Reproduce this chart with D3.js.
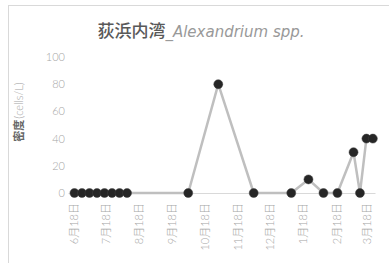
<!DOCTYPE html>
<html>
<head>
<meta charset="utf-8">
<script src="https://cdn.jsdelivr.net/npm/d3@7"></script>
<style>
  body { margin: 0; background: #fff; }
  svg { display: block; }
</style>
</head>
<body>
<div id="chart"></div>
<script>
// sampling dates and cell density
const dates = [
  "2018-06-19", "2018-06-26", "2018-07-03", "2018-07-10", "2018-07-17",
  "2018-07-24", "2018-07-31", "2018-08-07", "2018-10-03", "2018-10-31",
  "2018-12-03", "2019-01-07", "2019-01-23", "2019-02-06", "2019-02-19",
  "2019-03-06", "2019-03-12", "2019-03-18", "2019-03-24"
];
const values = [0, 0, 0, 0, 0, 0, 0, 0, 0, 80, 0, 0, 10, 0, 0, 30, 0, 40, 40];
const tickDates = [
  "2018-06-18", "2018-07-18", "2018-08-18", "2018-09-18", "2018-10-18",
  "2018-11-18", "2018-12-18", "2019-01-18", "2019-02-18", "2019-03-18"
];
const yTicks = [0, 20, 40, 60, 80, 100];

const W = 389, H = 263;
const parse = d3.timeParse("%Y-%m-%d");
const data = dates.map((d, i) => ({ date: parse(d), value: values[i] }));

const svg = d3.select("#chart").append("svg")
  .attr("width", W)
  .attr("height", H);

// outer frame (runs off the right and bottom edge)
svg.append("rect")
  .attr("x", 8.5).attr("y", 5.5)
  .attr("width", 420).attr("height", 300)
  .attr("fill", "none")
  .attr("stroke", "#d9d9d9");

const x = d3.scaleTime()
  .domain([parse("2018-06-13"), parse("2019-03-26")])
  .range([68, 375]);

const y = d3.scaleLinear()
  .domain([0, 100])
  .range([193, 57]);

const font = "Lato, 'Noto Sans CJK JP', sans-serif";
const thin = "'DejaVu Sans', Lato, sans-serif";

// title
const title = svg.append("text")
  .attr("x", 201)
  .attr("y", 37)
  .attr("text-anchor", "middle")
  .style("font-size", "17px");
title.append("tspan")
  .attr("fill", "#595959")
  .style("font-family", "'Noto Sans CJK JP', sans-serif")
  .style("font-weight", "500")
  .text("荻浜内湾");
title.append("tspan")
  .attr("fill", "#999999")
  .style("font-family", thin)
  .style("font-style", "italic")
  .style("font-weight", "200")
  .style("font-size", "15px")
  .text("_Alexandrium spp.");

// y axis label
const yLab = svg.append("text")
  .attr("transform", "translate(23,112) rotate(-90)")
  .attr("text-anchor", "middle")
  .style("font-size", "11px");
yLab.append("tspan")
  .attr("fill", "#666666")
  .style("font-family", "'Noto Sans CJK JP', sans-serif")
  .style("font-weight", "700")
  .text("密度");
yLab.append("tspan")
  .attr("dx", 1)
  .attr("fill", "#a6a6a6")
  .style("font-family", font)
  .style("font-weight", "300")
  .text("(cells/L)");

// y axis: labels only
const yAxis = svg.append("g")
  .attr("transform", "translate(65,0)")
  .call(d3.axisLeft(y).tickValues(yTicks).tickSize(0).tickPadding(0));
yAxis.select(".domain").remove();
yAxis.selectAll("text")
  .attr("fill", "#a6a6a6")
  .style("font-family", font)
  .style("font-weight", "300")
  .style("font-size", "11px");

// x axis: baseline + rotated date labels
const xAxis = svg.append("g")
  .attr("transform", `translate(0,${y(0)})`)
  .call(d3.axisBottom(x)
    .tickValues(tickDates.map(parse))
    .tickSize(0)
    .tickFormat(d3.timeFormat("%-m月%-d日")));
xAxis.select(".domain")
  .attr("stroke", "#d9d9d9")
  .attr("stroke-width", 1);
xAxis.selectAll("text")
  .attr("fill", "#a6a6a6")
  .style("font-family", font)
  .style("font-weight", "300")
  .style("font-size", "11px")
  .attr("text-anchor", "end")
  .attr("dy", "0.35em")
  .attr("transform", "translate(0,10) rotate(-90)")
  .attr("x", 0)
  .attr("y", 0);

// series line
const line = d3.line()
  .x(d => x(d.date))
  .y(d => y(d.value));

svg.append("path")
  .datum(data)
  .attr("fill", "none")
  .attr("stroke", "#bfbfbf")
  .attr("stroke-width", 2.5)
  .attr("stroke-linejoin", "round")
  .attr("d", line);

svg.selectAll(".dot")
  .data(data)
  .enter()
  .append("circle")
  .attr("class", "dot")
  .attr("cx", d => x(d.date))
  .attr("cy", d => y(d.value))
  .attr("r", 4.5)
  .attr("fill", "#262626")
  .attr("stroke", "#404040")
  .attr("stroke-width", 0.5);
</script>
</body>
</html>
